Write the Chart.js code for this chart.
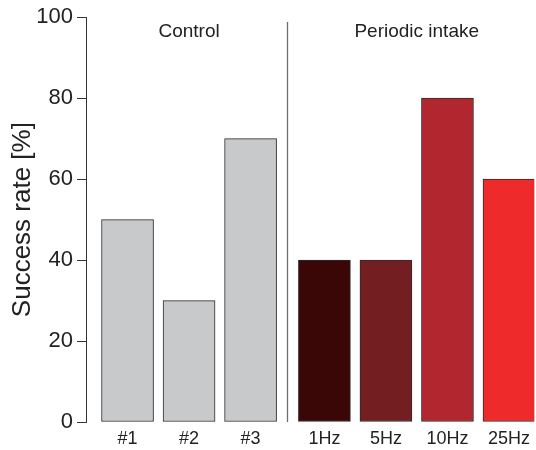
<!DOCTYPE html>
<html>
<head>
<meta charset="utf-8">
<script src="https://cdn.jsdelivr.net/npm/chart.js@4"></script>
<style>
  html, body { margin: 0; padding: 0; background: #fff; }
  #wrap { width: 536px; height: 450px; }
</style>
</head>
<body>
<div id="wrap"><canvas id="chart"></canvas></div>
<script>
// Data
const categories = ['#1', '#2', '#3', '1Hz', '5Hz', '10Hz', '25Hz'];
const groups = ['Control', 'Control', 'Control', 'Periodic intake', 'Periodic intake', 'Periodic intake', 'Periodic intake'];
const successRate = [50, 30, 70, 40, 40, 80, 60];
const barColors = ['#c8c9cb', '#c8c9cb', '#c8c9cb', '#3a0606', '#731f22', '#b2272f', '#ee2a2a'];
const yTicks = [0, 20, 40, 60, 80, 100];

const FONT = '"Liberation Sans", Arial, sans-serif';
const GROUP_GAP = 0.2; // extra space between the two groups

// bar positions on the x axis: index plus a gap after the first group
const xPos = categories.map((c, i) => i + (groups[i] !== groups[0] ? GROUP_GAP : 0));

const groupPlugin = {
    id: 'groupPlugin',
    afterDraw(chart) {
        const ctx = chart.ctx;
        const xs = chart.scales.x;
        const area = chart.chartArea;
        const names = [...new Set(groups)];
        ctx.save();
        ctx.font = '19px ' + FONT;
        ctx.fillStyle = '#222';
        ctx.textAlign = 'center';
        ctx.textBaseline = 'middle';
        names.forEach(name => {
            const px = xPos.filter((v, i) => groups[i] === name).map(v => xs.getPixelForValue(v));
            const mid = (Math.min(...px) + Math.max(...px)) / 2;
            ctx.fillText(name, mid, 32);
        });
        // separator line between groups
        const lastA = groups.lastIndexOf(names[0]);
        const sepX = Math.round((xs.getPixelForValue(xPos[lastA]) + xs.getPixelForValue(xPos[lastA + 1])) / 2) + 0.5;
        ctx.strokeStyle = '#6e6e6e';
        ctx.lineWidth = 1.3;
        ctx.beginPath();
        ctx.moveTo(sepX, 22);
        ctx.lineTo(sepX, area.bottom);
        ctx.stroke();
        ctx.restore();
    }
};

new Chart(document.getElementById('chart').getContext('2d'), {
    type: 'bar',
    data: {
        datasets: [{
            data: successRate.map((v, i) => ({ x: xPos[i], y: v })),
            backgroundColor: barColors,
            borderColor: '#2b2b2b',
            borderWidth: 1,
            borderSkipped: false,
            barThickness: 52
        }]
    },
    options: {
        responsive: true,
        maintainAspectRatio: false,
        animation: false,
        layout: { padding: { top: 15, right: 0, left: 0, bottom: 0 } },
        plugins: {
            legend: { display: false },
            tooltip: { enabled: false }
        },
        scales: {
            x: {
                type: 'linear',
                offset: false,
                min: -0.675,
                max: xPos[xPos.length - 1] + 0.41,
                afterBuildTicks: scale => {
                    scale.ticks = xPos.map(v => ({ value: v }));
                },
                afterFit: scale => { scale.height = 28; },
                grid: { display: false, drawTicks: false },
                border: { display: false },
                ticks: {
                    autoSkip: false,
                    maxRotation: 0,
                    padding: 6,
                    color: '#222',
                    font: { family: FONT, size: 18 },
                    callback: (value, index) => categories[index]
                }
            },
            y: {
                min: 0,
                max: 100,
                afterBuildTicks: scale => {
                    scale.ticks = yTicks.map(v => ({ value: v }));
                },
                afterFit: scale => { scale.width = 86; },
                grid: {
                    display: true,
                    drawOnChartArea: false,
                    drawTicks: true,
                    tickLength: 9,
                    color: '#333',
                    lineWidth: 1
                },
                border: { display: true, color: '#333', width: 1 },
                ticks: {
                    padding: 4,
                    color: '#222',
                    font: { family: FONT, size: 22 }
                },
                title: {
                    display: true,
                    text: 'Success rate [%]',
                    color: '#222',
                    font: { family: FONT, size: 26 },
                    padding: { top: 7, bottom: 0 }
                }
            }
        }
    },
    plugins: [groupPlugin]
});
</script>
</body>
</html>
